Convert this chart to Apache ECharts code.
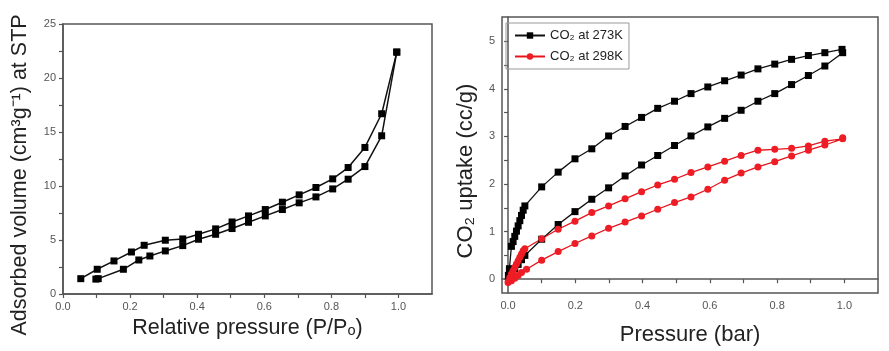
<!DOCTYPE html>
<html>
<head>
<meta charset="utf-8">
<script src="https://cdn.jsdelivr.net/npm/echarts@6/dist/echarts.min.js"></script>
<style>
  html, body { margin: 0; padding: 0; background: #fff; }
  #chart { width: 889px; height: 351px; }
</style>
</head>
<body>
<div id="chart"></div>
<script>
// N2 isotherm (left panel)
var n2AdsP = [0.098, 0.105, 0.18, 0.226, 0.259, 0.305, 0.357, 0.404, 0.455, 0.504, 0.553, 0.603, 0.654, 0.704, 0.754, 0.804, 0.85, 0.9, 0.95, 0.995];
var n2AdsV = [1.38, 1.42, 2.29, 3.15, 3.52, 3.99, 4.48, 5.07, 5.53, 6.06, 6.64, 7.23, 7.82, 8.44, 8.99, 9.73, 10.63, 11.8, 14.65, 22.4];
var n2DesP = [0.995, 0.95, 0.9, 0.85, 0.804, 0.754, 0.704, 0.654, 0.603, 0.553, 0.504, 0.455, 0.404, 0.357, 0.305, 0.242, 0.204, 0.152, 0.102, 0.053];
var n2DesV = [22.4, 16.69, 13.57, 11.71, 10.66, 9.86, 9.18, 8.5, 7.82, 7.23, 6.67, 6.03, 5.53, 5.1, 4.98, 4.51, 3.89, 3.06, 2.29, 1.42];

// CO2 uptake loops (right panel): adsorption up, then desorption back
var co2_273P = [0.002, 0.01, 0.02, 0.03, 0.04, 0.05, 0.1, 0.149, 0.199, 0.249, 0.299, 0.348, 0.397, 0.445, 0.495, 0.544, 0.594, 0.644, 0.693, 0.743, 0.793, 0.843, 0.893, 0.942, 0.995,
                0.993, 0.942, 0.893, 0.843, 0.793, 0.743, 0.693, 0.644, 0.594, 0.544, 0.495, 0.445, 0.397, 0.348, 0.299, 0.249, 0.199, 0.149, 0.1, 0.05, 0.045, 0.04, 0.035, 0.03, 0.025, 0.02, 0.015, 0.01, 0.004, 0.001];
var co2_273Q = [0.05, 0.13, 0.22, 0.31, 0.41, 0.5, 0.84, 1.15, 1.42, 1.68, 1.92, 2.17, 2.40, 2.60, 2.81, 3.01, 3.20, 3.38, 3.55, 3.74, 3.90, 4.09, 4.28, 4.48, 4.76,
                4.83, 4.76, 4.70, 4.62, 4.52, 4.42, 4.29, 4.17, 4.04, 3.90, 3.74, 3.59, 3.40, 3.21, 3.01, 2.74, 2.53, 2.25, 1.94, 1.54, 1.45, 1.34, 1.23, 1.12, 1.01, 0.90, 0.79, 0.69, 0.22, 0.08];
var co2_298P = [0, 0.01, 0.02, 0.03, 0.04, 0.055, 0.1, 0.149, 0.199, 0.249, 0.299, 0.348, 0.397, 0.445, 0.495, 0.544, 0.594, 0.644, 0.693, 0.743, 0.793, 0.843, 0.893, 0.942, 0.995,
                0.995, 0.942, 0.893, 0.843, 0.793, 0.743, 0.693, 0.644, 0.594, 0.544, 0.495, 0.445, 0.397, 0.348, 0.299, 0.249, 0.199, 0.149, 0.1, 0.05, 0.045, 0.04, 0.035, 0.03, 0.025, 0.02, 0.015, 0.01, 0.005, 0.001];
var co2_298Q = [-0.07, -0.03, 0.02, 0.08, 0.14, 0.21, 0.40, 0.58, 0.75, 0.91, 1.07, 1.20, 1.33, 1.47, 1.61, 1.73, 1.89, 2.08, 2.23, 2.36, 2.47, 2.59, 2.71, 2.82, 2.95,
                2.97, 2.90, 2.80, 2.75, 2.73, 2.71, 2.60, 2.48, 2.36, 2.24, 2.10, 1.98, 1.84, 1.69, 1.54, 1.40, 1.22, 1.05, 0.85, 0.64, 0.60, 0.53, 0.46, 0.39, 0.32, 0.25, 0.18, 0.11, 0.03, -0.05];

// ticks
var pTicks = [0, 0.1, 0.2, 0.3, 0.4, 0.5, 0.6, 0.7, 0.8, 0.9, 1.0];
var pLabels = [0, 0.2, 0.4, 0.6, 0.8, 1.0];
var volTicks = [0, 2.5, 5, 7.5, 10, 12.5, 15, 17.5, 20, 22.5, 25];
var volLabels = [0, 5, 10, 15, 20, 25];
var uptakeTicks = [0, 0.5, 1, 1.5, 2, 2.5, 3, 3.5, 4, 4.5, 5];
var uptakeLabels = [0, 1, 2, 3, 4, 5];

function zip(a, b) {
    return a.map(function(v, i) { return [v, b[i]]; });
}

var font = 'Liberation Sans, Arial, sans-serif';
var axisColor = '#555';
var labelColor = '#555';

function valueAxis(gridIndex, min, max, ticks, labels, decimals, name, nameGap, nameSize, namePad) {
    return {
        type: 'value',
        gridIndex: gridIndex,
        min: min,
        max: max,
        name: name,
        nameLocation: 'middle',
        nameGap: nameGap,
        nameTextStyle: { color: '#222', fontSize: nameSize, fontFamily: font, padding: namePad || 0 },
        axisLine: { show: true, lineStyle: { color: axisColor, width: 1.5 } },
        axisTick: { show: true, inside: false, length: 4, customValues: ticks, lineStyle: { color: axisColor, width: 1.2 } },
        axisLabel: {
            customValues: labels,
            color: labelColor,
            fontSize: 11,
            fontFamily: font,
            margin: 7,
            formatter: function(v) { return Number(v).toFixed(decimals); }
        },
        splitLine: { show: false }
    };
}

var chart = echarts.init(document.getElementById('chart'), null, { renderer: 'canvas' });

var option = {
    backgroundColor: '#fff',
    animation: false,
    grid: [
        { left: 63, top: 24, width: 369, height: 270, show: true, borderColor: axisColor, borderWidth: 1.5 },
        { left: 502, top: 17, width: 376, height: 277, show: true, borderColor: axisColor, borderWidth: 1.5 }
    ],
    xAxis: [
        valueAxis(0, 0, 1.1, pTicks, pLabels, 1, 'Relative pressure (P/Pₒ)', 21, 21.5),
        valueAxis(1, -0.018, 1.1, pTicks, pLabels, 1, 'Pressure (bar)', 31, 22)
    ],
    yAxis: [
        valueAxis(0, 0, 25, volTicks, volLabels, 0, 'Adsorbed volume (cm³g⁻¹) at STP', 32, 21.5, [0, 32, 0, 0]),
        valueAxis(1, -0.29, 5.51, uptakeTicks, uptakeLabels, 0, 'CO₂ uptake (cc/g)', 25, 22, [0, 32, 0, 0])
    ],
    legend: {
        left: 506,
        top: 23,
        orient: 'vertical',
        itemWidth: 30,
        itemHeight: 8,
        itemGap: 8,
        padding: [6, 6, 6, 8],
        borderColor: '#999',
        borderWidth: 1,
        textStyle: { color: '#222', fontSize: 13, fontFamily: font },
        data: ['CO₂ at 273K', 'CO₂ at 298K']
    },
    series: [
        {
            name: 'N2 adsorption',
            type: 'line',
            xAxisIndex: 0, yAxisIndex: 0,
            data: zip(n2AdsP, n2AdsV),
            symbol: 'rect', symbolSize: 7,
            lineStyle: { color: '#111', width: 1.5 },
            itemStyle: { color: '#000' }
        },
        {
            name: 'N2 desorption',
            type: 'line',
            xAxisIndex: 0, yAxisIndex: 0,
            data: zip(n2DesP, n2DesV),
            symbol: 'rect', symbolSize: 7,
            lineStyle: { color: '#111', width: 1.5 },
            itemStyle: { color: '#000' }
        },
        {
            name: 'CO₂ at 273K',
            type: 'line',
            xAxisIndex: 1, yAxisIndex: 1,
            data: zip(co2_273P, co2_273Q),
            symbol: 'rect', symbolSize: 7,
            lineStyle: { color: '#111', width: 1.3 },
            itemStyle: { color: '#000' }
        },
        {
            name: 'CO₂ at 298K',
            type: 'line',
            xAxisIndex: 1, yAxisIndex: 1,
            data: zip(co2_298P, co2_298Q),
            symbol: 'circle', symbolSize: 7,
            lineStyle: { color: '#e8141b', width: 1.3 },
            itemStyle: { color: '#ee1c24' }
        }
    ]
};

chart.setOption(option);
window.addEventListener('resize', function() {
    chart.resize();
});
</script>
</body>
</html>
